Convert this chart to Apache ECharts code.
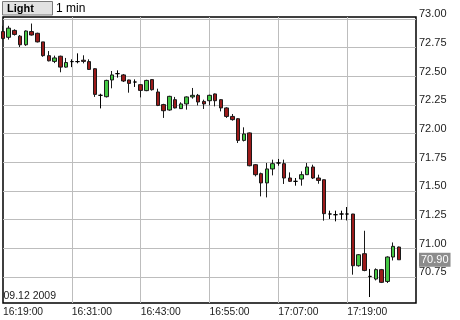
<!DOCTYPE html>
<html><head><meta charset="utf-8">
<script src="https://cdn.jsdelivr.net/npm/echarts@6/dist/echarts.min.js"></script>
<style>html,body{margin:0;padding:0;background:#fff}#c{width:460px;height:320px}</style>
</head><body><div id="c"></div><script>
const categories = [
 '16:19:00','16:20:00','16:21:00','16:22:00','16:23:00','16:24:00','16:25:00','16:26:00','16:27:00','16:28:00',
 '16:29:00','16:30:00','16:31:00','16:32:00','16:33:00','16:34:00','16:35:00','16:36:00','16:37:00','16:38:00',
 '16:39:00','16:40:00','16:41:00','16:42:00','16:43:00','16:44:00','16:45:00','16:46:00','16:47:00','16:48:00',
 '16:49:00','16:50:00','16:51:00','16:52:00','16:53:00','16:54:00','16:55:00','16:56:00','16:57:00','16:58:00',
 '16:59:00','17:00:00','17:01:00','17:02:00','17:03:00','17:04:00','17:05:00','17:06:00','17:07:00','17:08:00',
 '17:09:00','17:10:00','17:11:00','17:12:00','17:13:00','17:14:00','17:15:00','17:16:00','17:17:00','17:18:00',
 '17:19:00','17:20:00','17:21:00','17:22:00','17:23:00','17:24:00','17:25:00','17:26:00','17:27:00','17:28:00',
 '17:29:00','17:30:00','17:31:00'
];
const openV = [
 72.89,72.84,72.90,72.85,72.775,72.89,72.875,72.80,72.68,72.63,
 72.675,72.58,72.628,72.628,72.64,72.628,72.566,72.334,72.322,72.468,
 72.523,72.512,72.468,72.45,72.427,72.375,72.471,72.363,72.253,72.206,
 72.296,72.218,72.259,72.32,72.334,72.281,72.287,72.346,72.296,72.224,
 72.15,72.13,71.941,72.006,71.729,71.651,71.57,71.692,71.744,71.738,
 71.613,71.584,71.604,71.642,71.709,71.613,71.598,71.299,71.293,71.299,
 71.299,71.299,70.848,70.953,70.755,70.732,70.814,70.711,70.924,71.011
];
const highV = [
 72.94,72.94,72.91,72.86,72.90,72.96,72.88,72.80,72.72,72.68,
 72.68,72.66,72.648,72.70,72.683,72.648,72.57,72.348,72.47,72.546,
 72.552,72.52,72.47,72.473,72.43,72.47,72.475,72.392,72.26,72.33,
 72.32,72.273,72.325,72.398,72.346,72.296,72.34,72.35,72.30,72.23,
 72.171,72.135,72.055,72.01,71.735,71.66,71.744,71.773,71.779,71.773,
 71.662,71.613,71.671,71.744,71.729,71.642,71.60,71.328,71.328,71.328,
 71.36,71.30,70.95,71.153,70.82,70.825,70.82,70.93,71.051,71.015
];
const lowV = [
 72.82,72.82,72.855,72.755,72.765,72.855,72.795,72.67,72.63,72.615,
 72.535,72.575,72.58,72.613,72.613,72.555,72.32,72.22,72.315,72.395,
 72.488,72.45,72.357,72.407,72.316,72.37,72.375,72.24,72.137,72.20,
 72.22,72.215,72.209,72.305,72.246,72.215,72.246,72.238,72.194,72.137,
 72.113,71.918,71.932,71.715,71.627,71.453,71.444,71.636,71.72,71.561,
 71.578,71.546,71.546,71.64,71.604,71.563,71.241,71.256,71.235,71.25,
 71.243,70.77,70.84,70.80,70.575,70.72,70.697,70.697,70.894,70.90
];
const closeV = [
 72.83,72.92,72.865,72.775,72.895,72.86,72.80,72.68,72.635,72.66,
 72.58,72.62,72.628,72.628,72.63,72.56,72.342,72.334,72.464,72.512,
 72.523,72.459,72.438,72.45,72.377,72.464,72.383,72.246,72.20,72.325,
 72.224,72.259,72.32,72.334,72.276,72.259,72.334,72.287,72.224,72.15,
 72.122,71.941,71.997,71.72,71.642,71.57,71.692,71.738,71.744,71.613,
 71.584,71.584,71.642,71.709,71.613,71.592,71.302,71.299,71.293,71.299,
 71.299,70.848,70.944,70.807,70.755,70.814,70.703,70.924,71.017,70.90
];
const yTicks = [70.75,71.00,71.25,71.50,71.75,72.00,72.25,72.50,72.75,73.00];
const yMin = 70.523, yMax = 73.017;
const lastPrice = 70.90;
const dateLabel = '09.12 2009';
const styleButton = 'Light';
const periodLabel = '1 min';

const FONT = '"Liberation Sans", Arial, sans-serif';
const candleData = openV.map((o, i) => [o, closeV[i], lowV[i], highV[i]]);

const chart = echarts.init(document.getElementById('c'), null, {renderer: 'canvas'});
chart.setOption({
  animation: false,
  backgroundColor: '#fff',
  grid: {left: 3, right: 44, top: 17, bottom: 17, show: true, borderColor: '#000', borderWidth: 1.5, backgroundColor: '#fff'},
  xAxis: {
    type: 'category', data: categories, boundaryGap: false,
    axisLine: {show: false}, axisTick: {show: false},
    axisLabel: {interval: (i) => i % 12 === 0 && i < 72, align: 'left', margin: 4, fontSize: 10.3,
      color: '#222', fontFamily: FONT},
    splitLine: {show: true, interval: (i) => i % 12 === 0 && i > 0 && i < 72, lineStyle: {color: '#bdbdbd', width: 1}}
  },
  yAxis: {
    type: 'value', position: 'right', min: yMin, max: yMax,
    axisLine: {show: false}, axisTick: {show: false, customValues: yTicks},
    axisLabel: {customValues: yTicks, formatter: (v) => v.toFixed(2), margin: 3, fontSize: 11,
      color: '#222', fontFamily: FONT, verticalAlign: 'bottom', lineHeight: 9},
    splitLine: {show: true, lineStyle: {color: '#bdbdbd', width: 1}}
  },
  series: [{
    type: 'candlestick', data: candleData, barWidth: 4,
    itemStyle: {color: '#44c844', color0: '#9b1a1a', borderColor: '#1a1a1a', borderColor0: '#1a1a1a',
      borderColorDoji: '#000', borderWidth: 1},
    markLine: {
      silent: true, symbol: 'none', animation: false,
      lineStyle: {color: 'transparent', width: 0},
      label: {position: 'end', distance: 3, formatter: () => lastPrice.toFixed(2), backgroundColor: '#8c8c8c',
        color: '#fff', padding: [2, 2, 1, 2], fontSize: 11, fontFamily: FONT},
      data: [{yAxis: lastPrice}]
    }
  }],
  graphic: [
    {type: 'rect', shape: {x: 2.5, y: 1.5, width: 50, height: 13.5}, style: {fill: '#e2e2e2', stroke: '#7a7a7a', lineWidth: 1}},
    {type: 'text', x: 7, y: 8.5, style: {text: styleButton, fontSize: 11, fontWeight: 'bold', fontFamily: FONT, fill: '#000', verticalAlign: 'middle'}},
    {type: 'text', x: 56, y: 8.5, style: {text: periodLabel, fontSize: 12, fontFamily: FONT, fill: '#000', verticalAlign: 'middle'}},
    {type: 'text', x: 3.5, y: 296, z: 10, style: {text: dateLabel, fontSize: 10.5, fontFamily: FONT, fill: '#222', verticalAlign: 'middle'}}
  ]
});
</script></body></html>
